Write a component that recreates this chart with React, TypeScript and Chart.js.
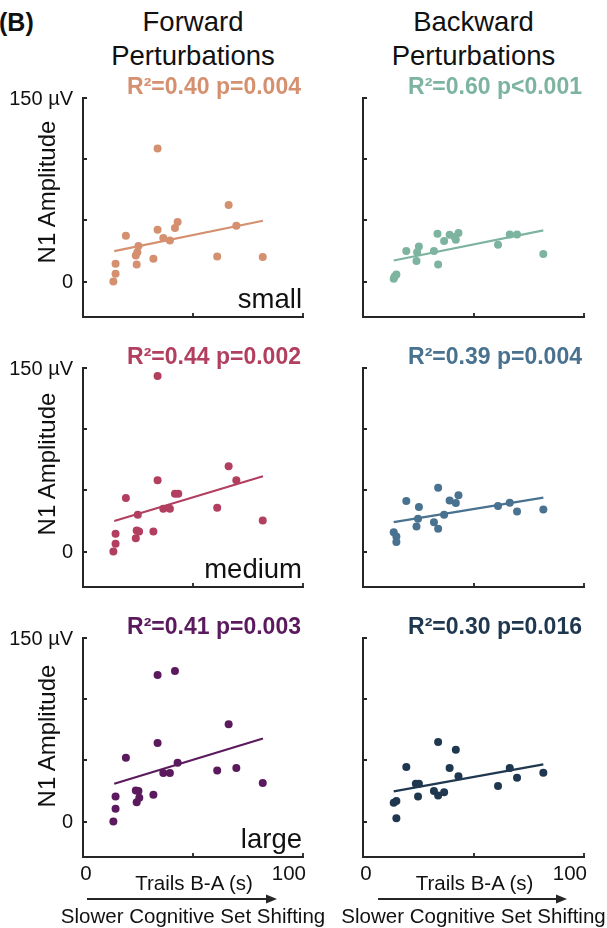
import React, { useEffect, useRef } from "react";
import { Chart, registerables } from "chart.js";
Chart.register(...registerables);

const FONT = '"Liberation Sans", Arial, Helvetica, sans-serif';
const AXIS = "#262626";
const TEXT = "#111111";

// ---- shared axis definitions ----
const yTicks = [0, 50, 100, 150];
const yTickLabels = ["0", "", "", "150 µV"];
const xTicks = [0, 50, 100];
const xTickLabels = ["0", "", "100"];
const yMin = -29;
const yMax = 150;
const xMin = 0;
const xMax = 100;

// ---- Forward, small ----
const fwdSmallX = [13.8, 14.8, 14.8, 19.5, 24.4, 24.0, 24.7, 25.2, 32.0, 33.9, 33.9, 36.5, 39.5, 41.8, 43.0, 61.0, 66.2, 69.7, 81.7];
const fwdSmallY = [0, 6.3, 14.5, 37.4, 13.9, 21.3, 24.0, 29.0, 18.6, 108.7, 42.3, 35.5, 33.6, 43.7, 48.6, 20.5, 62.6, 45.6, 20.0];
const fwdSmallFitX = [14.2, 81.8];
const fwdSmallFitY = [24.9, 49.7];

// ---- Backward, small ----
const bwdSmallX = [13.9, 14.3, 15.1, 19.6, 24.2, 24.5, 25.3, 32.1, 33.7, 34.0, 36.7, 39.2, 41.5, 42.0, 43.2, 61.1, 66.4, 69.7, 81.6];
const bwdSmallY = [2.2, 4.1, 5.7, 24.9, 16.7, 24.0, 28.7, 24.9, 39.1, 13.9, 33.1, 38.3, 36.3, 34.2, 39.6, 30.0, 38.5, 38.5, 22.4];
const bwdSmallFitX = [13.9, 81.6];
const bwdSmallFitY = [17.2, 41.8];

// ---- Forward, medium ----
const fwdMedX = [13.8, 14.8, 14.8, 19.5, 24.0, 24.4, 25.5, 24.9, 32.0, 33.9, 33.9, 36.5, 39.5, 41.8, 43.3, 61.0, 66.2, 69.7, 81.7];
const fwdMedY = [0, 6.3, 14.5, 43.7, 10.9, 17.2, 16.4, 30.0, 16.4, 143.4, 58.2, 35.0, 35.0, 47.3, 47.3, 35.8, 69.7, 58.2, 25.4];
const fwdMedFitX = [14.2, 81.8];
const fwdMedFitY = [24.9, 61.5];

// ---- Backward, medium ----
const bwdMedX = [13.9, 15.1, 15.1, 19.6, 24.2, 24.9, 25.3, 32.1, 34.0, 34.0, 36.7, 39.2, 42.0, 43.2, 61.1, 66.4, 69.7, 81.6];
const bwdMedY = [15.8, 12.3, 7.7, 41.3, 20.5, 26.8, 36.3, 24.0, 18.6, 52.2, 30.0, 41.8, 39.6, 45.9, 37.2, 39.9, 32.8, 34.4];
const bwdMedFitX = [13.9, 81.6];
const bwdMedFitY = [24.0, 44.0];

// ---- Forward, large ----
const fwdLargeX = [13.8, 14.8, 14.8, 19.5, 24.0, 25.2, 24.4, 25.6, 32.0, 33.9, 33.9, 36.5, 39.5, 41.8, 43.0, 61.0, 66.2, 69.7, 81.7];
const fwdLargeY = [0, 10.4, 20.5, 52.2, 25.4, 24.9, 15.8, 19.4, 21.9, 119.7, 64.2, 39.6, 39.6, 123.0, 48.1, 41.8, 79.5, 43.7, 31.4];
const fwdLargeFitX = [14.2, 81.8];
const fwdLargeFitY = [30.9, 67.8];

// ---- Backward, large ----
const bwdLargeX = [13.9, 15.1, 15.1, 19.6, 23.9, 25.3, 24.9, 32.1, 34.0, 36.7, 34.0, 39.2, 42.0, 43.2, 61.1, 66.4, 69.7, 81.6];
const bwdLargeY = [15.3, 16.7, 2.7, 44.5, 30.9, 30.9, 20.5, 24.9, 21.3, 24.0, 65.0, 43.7, 58.7, 36.9, 29.0, 43.7, 35.8, 39.9];
const bwdLargeFitX = [13.9, 81.6];
const bwdLargeFitY = [24.6, 46.7];

// ---- labels ----
const columnTitles = [["Forward", "Perturbations"], ["Backward", "Perturbations"]];
const sizeLabels = ["small", "medium", "large"];
const statLabels = [
  ["R²=0.40 p=0.004", "R²=0.60 p<0.001"],
  ["R²=0.44 p=0.002", "R²=0.39 p=0.004"],
  ["R²=0.41 p=0.003", "R²=0.30 p=0.016"],
];
const colors = [
  ["#D4906F", "#7DB4A0"],
  ["#B23E60", "#48728F"],
  ["#5B1A5D", "#1F3850"],
];
const yAxisTitle = "N1 Amplitude";
const xAxisTitle = "Trails B-A (s)";
const xAxisNote = "Slower Cognitive Set Shifting";

const panelData = [
  [
    { x: fwdSmallX, y: fwdSmallY, fx: fwdSmallFitX, fy: fwdSmallFitY },
    { x: bwdSmallX, y: bwdSmallY, fx: bwdSmallFitX, fy: bwdSmallFitY },
  ],
  [
    { x: fwdMedX, y: fwdMedY, fx: fwdMedFitX, fy: fwdMedFitY },
    { x: bwdMedX, y: bwdMedY, fx: bwdMedFitX, fy: bwdMedFitY },
  ],
  [
    { x: fwdLargeX, y: fwdLargeY, fx: fwdLargeFitX, fy: fwdLargeFitY },
    { x: bwdLargeX, y: bwdLargeY, fx: bwdLargeFitX, fy: bwdLargeFitY },
  ],
];

// ---- layout ----
const W = 607;
const H = 928;
const colCanvasLeft = [0, 310];
const colCanvasWidth = [310, 297];
const colPadL = [83, 53];
const colPadR = [7, 23];
const rowStep = 270;
const canvasTop0 = 80;
const plotTopOffset = 18; // from canvas top
const plotHeight = 219;

function Panel({ row, col }: { row: number; col: number }) {
  const ref = useRef<HTMLCanvasElement | null>(null);
  const d = panelData[row][col];
  const color = colors[row][col];
  const height = row === 2 ? 300 : 250;
  const width = colCanvasWidth[col];
  const showYLabels = col === 0;
  const showXLabels = row === 2;

  useEffect(() => {
    if (!ref.current) return;
    const ticksPlugin = {
      id: "inwardTicks",
      afterDraw(chart: any) {
        const { ctx, chartArea } = chart;
        const xs = chart.scales.x;
        const ys = chart.scales.y;
        ctx.save();
        ctx.strokeStyle = AXIS;
        ctx.lineWidth = 1.8;
        ctx.beginPath();
        yTicks.forEach((v) => {
          const py = Math.round(ys.getPixelForValue(v));
          ctx.moveTo(chartArea.left, py);
          ctx.lineTo(chartArea.left + 4, py);
        });
        xTicks.forEach((v) => {
          const px = Math.round(xs.getPixelForValue(v));
          ctx.moveTo(px, chartArea.bottom);
          ctx.lineTo(px, chartArea.bottom - 4);
        });
        ctx.stroke();
        ctx.fillStyle = TEXT;
        ctx.font = `20px ${FONT}`;
        if (showYLabels) {
          ctx.textAlign = "right";
          ctx.textBaseline = "middle";
          yTicks.forEach((v, i) => {
            if (!yTickLabels[i]) return;
            ctx.fillText(yTickLabels[i], chartArea.left - 10, ys.getPixelForValue(v) + 1);
          });
        }
        if (showXLabels) {
          ctx.font = `20.5px ${FONT}`;
          ctx.textBaseline = "middle";
          xTicks.forEach((v, i) => {
            if (!xTickLabels[i]) return;
            const px = xs.getPixelForValue(v);
            const last = i === xTicks.length - 1;
            ctx.textAlign = last ? "right" : "center";
            ctx.fillText(xTickLabels[i], px + 3, chartArea.bottom + 17);
          });
        }
        ctx.restore();
      },
    };

    const chart = new Chart(ref.current, {
      type: "scatter",
      data: {
        datasets: [
          {
            type: "line",
            data: d.fx.map((x, i) => ({ x, y: d.fy[i] })),
            borderColor: color,
            borderWidth: 2.2,
            pointRadius: 0,
            fill: false,
            showLine: true,
            order: 2,
          } as any,
          {
            type: "scatter",
            data: d.x.map((x, i) => ({ x, y: d.y[i] })),
            backgroundColor: color,
            borderWidth: 0,
            pointRadius: 4,
            order: 1,
          },
        ],
      },
      options: {
        responsive: false,
        maintainAspectRatio: false,
        animation: false,
        devicePixelRatio: 1,
        layout: {
          autoPadding: false,
          padding: {
            left: colPadL[col],
            right: colPadR[col],
            top: plotTopOffset,
            bottom: height - plotTopOffset - plotHeight,
          },
        },
        plugins: {
          legend: { display: false },
          tooltip: { enabled: false },
          title: { display: false },
        },
        scales: {
          x: {
            type: "linear",
            min: xMin,
            max: xMax,
            grid: { display: false, drawTicks: false },
            border: { display: true, color: AXIS, width: 2 },
            ticks: { display: false },
            afterFit: (s: any) => {
              s.height = 0;
            },
          },
          y: {
            type: "linear",
            min: yMin,
            max: yMax,
            grid: { display: false, drawTicks: false },
            border: { display: true, color: AXIS, width: 2 },
            ticks: { display: false },
            afterFit: (s: any) => {
              s.width = 0;
            },
          },
        },
      },
      plugins: [ticksPlugin],
    });
    return () => chart.destroy();
  }, [row, col]);

  return (
    <canvas
      ref={ref}
      width={width}
      height={height}
      style={{
        position: "absolute",
        left: colCanvasLeft[col],
        top: canvasTop0 + rowStep * row,
        width,
        height,
      }}
    />
  );
}

function Txt({
  x,
  y,
  fs,
  bold,
  color,
  align,
  children,
}: {
  x: number;
  y: number;
  fs: number;
  bold?: boolean;
  color?: string;
  align: "left" | "center" | "right";
  children: React.ReactNode;
}) {
  const tx = align === "left" ? "0" : align === "center" ? "-50%" : "-100%";
  return (
    <div
      style={{
        position: "absolute",
        left: x,
        top: y - 0.8465 * fs,
        fontSize: fs,
        lineHeight: `${fs}px`,
        fontWeight: bold ? 700 : 400,
        color: color || TEXT,
        fontFamily: FONT,
        whiteSpace: "nowrap",
        transform: `translateX(${tx})`,
      }}
    >
      {children}
    </div>
  );
}

export default function App() {
  const axisLeft = [83, 363];
  const axisRight = [303, 584];
  const colCenter = [193, 473.5];
  const yTitleCenters = [192, 464, 736];
  return (
    <div
      style={{
        position: "absolute",
        left: 0,
        top: 0,
        width: W,
        height: H,
        overflow: "hidden",
        background: "#ffffff",
      }}
    >
      {[0, 1, 2].map((r) => [0, 1].map((c) => <Panel key={`${r}-${c}`} row={r} col={c} />))}

      <Txt x={-1} y={31.5} fs={25} bold align="left">
        (B)
      </Txt>

      {columnTitles.map((t, c) => (
        <React.Fragment key={`t${c}`}>
          <Txt x={colCenter[c]} y={31.7} fs={27.5} align="center">
            {t[0]}
          </Txt>
          <Txt x={colCenter[c]} y={65} fs={27.5} align="center">
            {t[1]}
          </Txt>
        </React.Fragment>
      ))}

      {statLabels.map((rowLabels, r) =>
        rowLabels.map((s, c) => (
          <Txt key={`s${r}${c}`} x={axisRight[c] - 2} y={94.7 + rowStep * r} fs={23} bold color={colors[r][c]} align="right">
            {s}
          </Txt>
        ))
      )}

      {sizeLabels.map((s, r) => (
        <Txt key={`z${r}`} x={axisRight[0] - 1} y={308 + rowStep * r} fs={27.5} align="right">
          {s}
        </Txt>
      ))}

      {yTitleCenters.map((cy, r) => (
        <div
          key={`yt${r}`}
          style={{
            position: "absolute",
            left: 46.5,
            top: cy,
            fontSize: 24,
            lineHeight: "24px",
            fontFamily: FONT,
            color: TEXT,
            whiteSpace: "nowrap",
            transform: "translate(-50%, -50%) rotate(-90deg)",
          }}
        >
          {yAxisTitle}
        </div>
      ))}

      {[0, 1].map((c) => (
        <React.Fragment key={`xb${c}`}>
          <Txt x={colCenter[c] + 1} y={890} fs={20.5} align="center">
            {xAxisTitle}
          </Txt>
          <Txt x={colCenter[c]} y={923.5} fs={20.5} align="center">
            {xAxisNote}
          </Txt>
        </React.Fragment>
      ))}

      <svg
        width={W}
        height={H}
        style={{ position: "absolute", left: 0, top: 0, pointerEvents: "none" }}
      >
        {[0, 1].map((c) => {
          const x0 = axisLeft[c] + (c === 0 ? 4 : 15);
          const x1 = axisRight[c] - (c === 0 ? 26 : 17);
          const y = 899;
          return (
            <g key={`ar${c}`}>
              <line x1={x0} y1={y} x2={x1 - 8} y2={y} stroke={AXIS} strokeWidth={2} />
              <polygon points={`${x1},${y} ${x1 - 11},${y - 4.5} ${x1 - 11},${y + 4.5}`} fill={AXIS} />
            </g>
          );
        })}
      </svg>
    </div>
  );
}
